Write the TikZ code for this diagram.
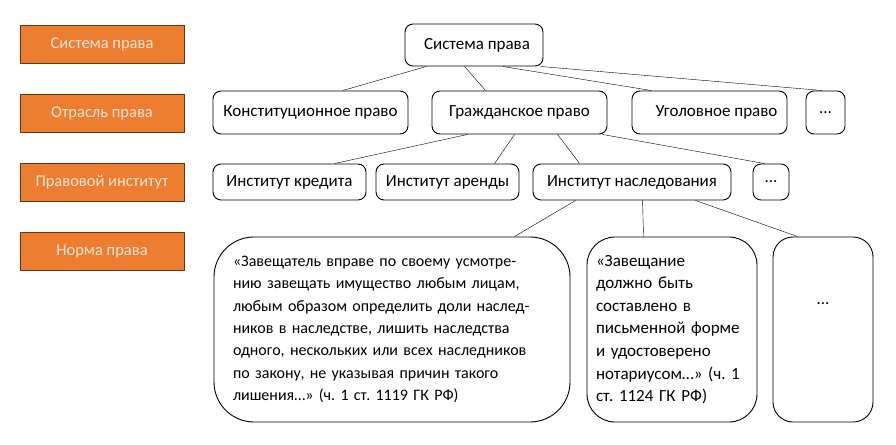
\documentclass[tikz,border=0pt]{standalone}
\usepackage{fontspec}
\setmainfont{Carlito}
\frenchspacing
\definecolor{labelfill}{HTML}{ED7D31}
\definecolor{labeltext}{HTML}{FBE5D6}
\definecolor{labeldraw}{HTML}{6B3512}
\begin{document}
\begin{tikzpicture}[x=1pt, y=-1pt, font=\fontsize{17}{22.4}\selectfont,
        level/.style={draw=labeldraw, fill=labelfill, text=labeltext, font=\fontsize{16.5}{20}\selectfont, minimum width=164pt, minimum height=38pt, inner sep=0pt},
        unit/.style={draw, rounded corners=8pt, line width=0.9pt, inner sep=0pt, minimum height=43pt},
        inst/.style={unit, minimum height=36pt},
        norm/.style={draw, line width=0.9pt, minimum height=185pt, align=left, inner xsep=10pt}]
        \useasboundingbox (0,0) rectangle (896,444);
        % levels
        \node[level] (l1) at (102, 44) {Система права};
        \node[level] (l2) at (102, 113) {Отрасль права};
        \node[level] (l3) at (102, 182.5) {Правовой институт};
        \node[level] (l4) at (102, 251.5) {Норма права};
        % system
        \node[unit, minimum width=138pt, minimum height=42pt] (sys) at (474, 45) {\hspace*{6pt}Система права};
        % branches
        \node[unit, minimum width=195pt] (konst) at (310.5, 112.5) {Конституционное право};
        \node[unit, minimum width=175pt] (grazh) at (519.5, 112.5) {Гражданское право};
        \node[unit, minimum width=155pt] (ugol) at (709.5, 112.5) {\hspace*{14pt}Уголовное право};
        \node[unit, minimum width=39pt] (etc1) at (825.5, 112.5) {...};
        % institutes
        \node[inst, minimum width=153pt] (kred) at (289.5, 182) {Институт кредита};
        \node[inst, minimum width=143pt] (arend) at (447.5, 182) {Институт аренды};
        \node[inst, minimum width=198pt] (nasl) at (632, 182) {Институт наследования};
        \node[inst, minimum width=36pt] (etc2) at (771, 182) {...};
        % norms
        \node[norm, rounded corners=40pt, text width=318pt, inner xsep=19pt, font=\fontsize{16}{22.3}\selectfont] (norm1) at (392, 329.5) {«Завещатель вправе по своему усмотре-\\нию завещать имущество любым лицам,\\любым образом определить доли наслед-\\ников в наследстве, лишить наследства\\одного, нескольких или всех наследников\\по закону, не указывая причин такого\\лишения…» (ч. 1 ст. 1119 ГК РФ)};
        \node[norm, rounded corners=28pt, text width=152pt, inner xsep=9pt, font=\fontsize{17}{22.6}\selectfont] (norm2) at (672, 329.5) {«Завещание\\должно быть\\составлено в\\письменной форме\\и удостоверено\\нотариусом…» (ч. 1\\ст. 1124 ГК РФ)};
        \node[norm, rounded corners=20pt, minimum width=100pt, inner xsep=0pt, align=center] (norm3) at (823, 329.5) {...\\[30pt]};
        % links
        \draw ([xshift=22pt]sys.south west) -- ([xshift=130pt]konst.north west);
        \draw ([xshift=60pt]sys.south west) -- ([xshift=54pt]grazh.north west);
        \draw ([xshift=98pt]sys.south west) -- ([xshift=20pt]ugol.north west);
        \draw ([xshift=-3pt]sys.south east) -- ([xshift=17pt]etc1.north west);
        \draw ([xshift=36pt]grazh.south west) -- ([xshift=122pt]kred.north west);
        \draw ([xshift=83pt]grazh.south west) -- ([xshift=119pt]arend.north west);
        \draw ([xshift=126pt]grazh.south west) -- ([xshift=47pt]nasl.north west);
        \draw ([xshift=-5pt]grazh.south east) -- ([xshift=12pt]etc2.north west);
        \draw ([xshift=43pt]nasl.south west) -- ([xshift=301pt]norm1.north west);
        \draw ([xshift=110pt]nasl.south west) -- ([xshift=57pt]norm2.north west);
        \draw ([xshift=-36pt]nasl.south east) -- ([xshift=25pt]norm3.north west);
\end{tikzpicture}
\end{document}
